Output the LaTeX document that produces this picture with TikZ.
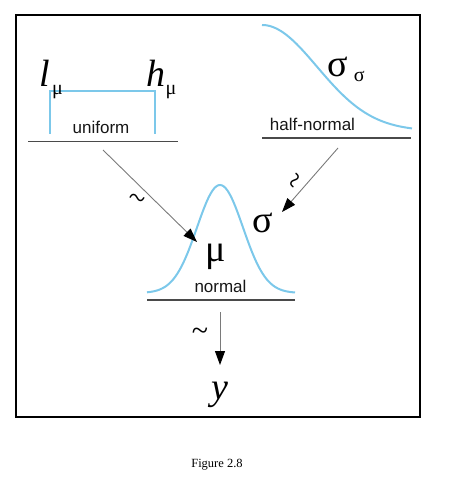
\documentclass[tikz,border=0pt]{standalone}
\usepackage{fontspec}
\setmainfont{Liberation Serif}
\setsansfont{Liberation Sans}
\usetikzlibrary{arrows.meta}
\definecolor{pdCurve}{HTML}{7CC8EA}
\definecolor{pdBase}{HTML}{4A4A4A}
\definecolor{pdArrow}{HTML}{7A7A7A}
\definecolor{pdText}{HTML}{161616}
\newcommand{\bigsym}{\fontsize{38}{40}\selectfont}
\newcommand{\subsym}{\fontsize{20}{22}\selectfont}
\newcommand{\distfont}{\fontsize{17}{20}\selectfont\sffamily}
\tikzset{
  pd/.style={x=1pt, y=-1pt, line width=1pt, >={Triangle[length=14pt, width=10pt, color=black]}},
  curve/.style={draw=pdCurve, line width=2pt},
  base/.style={draw=pdBase, line width=1.5pt},
  arr/.style={->, draw=pdArrow, line width=.9pt},
  dname/.style={font=\distfont, text=pdText, anchor=base, inner sep=0pt},
  sym/.style={font=\bigsym, anchor=base, inner sep=0pt},
  tld/.style={font=\fontsize{30}{30}\selectfont, inner sep=0pt},
}

\begin{document}
\begin{tikzpicture}[pd]
\useasboundingbox (0,0) rectangle (453,497);
\draw[line width=2pt] (16,15) rectangle (420,417);

% priors: uniform and half-normal
\draw[curve] (50,134) -- (50,91) -- (155,91) -- (155,134);
\draw[curve] plot[domain=262:412, samples=80, smooth] (\x, {131-106*exp(-0.5*((\x-262)/55)^2)});
\draw[curve] plot[domain=147:295, samples=80, smooth] (\x, {293-108*exp(-0.5*((\x-220)/23)^2)});
\foreach \a/\b/\y in {28/178/141.5, 262/411/138, 147/295/300}
  \draw[base] (\a,\y) -- (\b,\y);

\node[dname] (uni) at (101,134) {uniform};
\node[dname] (halfn) at (312.5,131) {half-normal};
\node[dname] (norm) at (220.5,292) {normal};

\node[sym, anchor=base west] (lmu) at (39,87) {\textit{l}\kern2pt\raisebox{-8pt}{\subsym μ}};
\node[sym, anchor=base west] (hmu) at (146,87) {\textit{h}\raisebox{-8pt}{\subsym μ}};
\node[sym, anchor=base west] (sigsig) at (327,77) {σ\kern6pt\raisebox{-5pt}{\subsym σ}};
\node[sym] (mu) at (216,261) {μ};
\node[sym] (sig) at (263,232) {σ};
\node[sym] (y) at (220,399) {\textit{y}};

% sampling arrows
\coordinate (uniOut) at (103,150);
\coordinate (muTip) at (197,242);
\coordinate (halfOut) at (338,148);
\coordinate (sigTip) at (282,212);
\coordinate (normOut) at (220,312);
\coordinate (yTip) at (220,365);
\draw[arr] (uniOut) -- (muTip);
\draw[arr] (halfOut) -- (sigTip);
\draw[arr] (normOut) -- (yTip);
\node[tld, rotate=-20] (t1) at (136,201) {\textasciitilde};
\node[tld, rotate=60] (t2) at (298,182) {\textasciitilde};
\node[tld] (t3) at (200,334) {\textasciitilde};

\node[anchor=base, font=\fontsize{12.5}{14}\selectfont] (fig) at (217,467) {Figure 2.8};
\end{tikzpicture}
\end{document}
